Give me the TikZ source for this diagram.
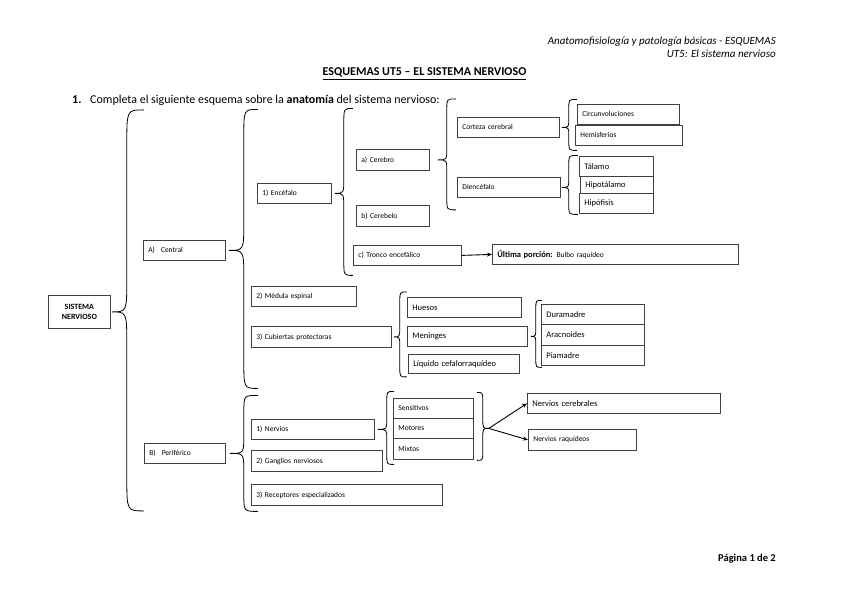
\documentclass[tikz,border=0pt]{standalone}
\usepackage{fontspec}
\setmainfont{Carlito}
\usetikzlibrary{calc,arrows.meta}
\definecolor{boxc}{RGB}{64,64,64}
\tikzset{
 box/.style 2 args={draw=boxc, line width=0.8pt, text width=#1, minimum height=#2, inner xsep=5pt, inner ysep=0pt, anchor=north west, align=left, font=\fontsize{7.5}{8}\selectfont},
 hw/.style={font=\fontsize{8.5}{9}\selectfont},
 snbox/.style={draw=boxc, line width=0.8pt, minimum width=62pt, minimum height=33pt, inner sep=0pt, anchor=north west, align=center, font=\bfseries\fontsize{8}{9.5}\selectfont},
 brace/.style={draw=black, line width=0.8pt},
 arr/.style={draw=black, line width=0.9pt, -{Stealth[length=5pt,width=4pt]}},
 txt/.style={inner sep=0pt},
}
% #1 tip, #2 spine offset, #3 up, #4 down, #5 curl, #6 radius
\newcommand\mybrace[6]{%
 \draw[brace] ($(#1)+({#2+(#5)},{-(#3)})$) .. controls ($(#1)+({#2},{-(#3)})$) .. ($(#1)+({#2},{-(#3)+(#6)})$)
  -- ($(#1)+({#2},{-(#6)})$) .. controls ($(#1)+({#2},0)$) .. (#1)
  .. controls ($(#1)+({#2},0)$) .. ($(#1)+({#2},{#6})$)
  -- ($(#1)+({#2},{(#4)-(#6)})$) .. controls ($(#1)+({#2},{#4})$) .. ($(#1)+({#2+(#5)},{#4})$);}
\begin{document}
\begin{tikzpicture}[x=1pt,y=-1pt]
\useasboundingbox (0,0) rectangle (848,599);
\fill[white] (0,0) rectangle (848,599);
% header
\node[txt, anchor=base east, font=\itshape\fontsize{11}{13}\selectfont] (h1) at (776,45) {Anatomofisiología y patología básicas - ESQUEMAS};
\node[txt, anchor=base east, font=\itshape\fontsize{11}{13}\selectfont] (h2) at (776,58) {UT5: El sistema nervioso};
\node[txt, anchor=base, font=\bfseries\fontsize{12}{14}\selectfont] (title) at (424.5,76) {\underline{ESQUEMAS UT5 – EL SISTEMA NERVIOSO}};
\node[txt, anchor=base west, font=\bfseries\fontsize{12}{14}\selectfont] (num) at (72,103) {1.};
\node[txt, anchor=base west, font=\fontsize{12}{14}\selectfont] (q) at (90,103) {Completa el siguiente esquema sobre la \textbf{anatomía} del sistema nervioso:};
\node[txt, anchor=base east, font=\bfseries\fontsize{10.5}{12}\selectfont] (pg) at (776,561) {Página 1 de 2};
% boxes
\node[snbox] (sn) at (48,295) {SISTEMA\\NERVIOSO};
\node[box={72pt}{20pt}] (cen) at (143,240) {A)\hspace{0.8em}Central};
\node[box={71pt}{20pt}] (per) at (144,443) {B)\hspace{0.8em}Periférico};
\node[box={64pt}{20pt}] (enc) at (257,183) {1) Encéfalo};
\node[box={95pt}{20pt}] (med) at (251,286) {2) Médula espinal};
\node[box={130pt}{21pt}] (cub) at (251,326) {3) Cubiertas protectoras};
\node[box={113pt}{20pt}] (ner) at (251,419) {1) Nervios};
\node[box={121pt}{21pt}] (gan) at (251,450) {2) Ganglios nerviosos};
\node[box={181pt}{21pt}] (rec) at (251,484) {3) Receptores especializados};
\node[box={63pt}{21pt}] (cer) at (356,149) {a) Cerebro};
\node[box={63pt}{21pt}] (cbl) at (356,205) {b) Cerebelo};
\node[box={98pt}{20pt}] (tro) at (353,245) {c) Tronco encefálico};
\node[box={236pt}{20pt}] (ult) at (492,244) {\textbf{\fontsize{8.5}{9}\selectfont Última porción:}\hspace{0.5em}Bulbo raquídeo};
\node[box={92pt}{20pt}] (cor) at (457,117) {Corteza cerebral};
\node[box={93pt}{20pt}] (die) at (457,177) {Diencéfalo};
\node[box={92pt}{20pt}] (cir) at (577,104) {Circunvoluciones};
\node[box={97pt}{20pt}] (hem) at (575,125) {Hemisferios};
\node[box={64pt}{20pt}, hw] (tal) at (579,156) {Tálamo};
\node[box={63pt}{17pt}, hw] (hip) at (580,176) {Hipotálamo};
\node[box={64pt}{20pt}, hw] (hpf) at (579,193) {Hipófisis};
\node[box={104pt}{20pt}, hw] (hue) at (407,297) {Huesos};
\node[box={110pt}{20pt}, hw] (men) at (407,326) {Meninges};
\node[box={101pt}{19pt}, hw] (liq) at (408,354) {Líquido cefalorraquídeo};
\node[box={93pt}{20pt}, hw] (dur) at (541,304) {Duramadre};
\node[box={93pt}{21pt}, hw] (ara) at (541,324) {Aracnoides};
\node[box={93pt}{20pt}, hw] (pia) at (541,345) {Piamadre};
\node[box={70pt}{20pt}] (sen) at (393,398) {Sensitivos};
\node[box={70pt}{20pt}] (mot) at (393,418) {Motores};
\node[box={70pt}{21pt}] (mix) at (393,438) {Mixtos};
\node[box={183pt}{20pt}, hw] (nc) at (527,393) {Nervios cerebrales};
\node[box={98pt}{21pt}] (nr) at (528,429) {Nervios raquídeos};
% brace tips
\coordinate (t1) at ([xshift=1pt]sn.east);
\coordinate (t2) at ([xshift=3pt]cen.east);
\coordinate (t3) at ([xshift=4pt]per.east);
\coordinate (t4) at ([xshift=3pt]enc.east);
\coordinate (t5) at ([xshift=8pt]cer.east);
\coordinate (t6) at ([xshift=2pt]cor.east);
\coordinate (t7) at ([xshift=1pt]die.east);
\coordinate (t8) at ([xshift=2pt]cub.east);
\coordinate (t9) at ([xshift=3pt]men.east);
\coordinate (t10) at ([xshift=3pt]ner.east);
\coordinate (t11) at ([xshift=15pt]mot.east);
% braces
\mybrace{t1}{15}{202}{199}{17}{34}
\mybrace{t2}{15}{141}{138}{14}{28}
\mybrace{t3}{14}{58}{58}{14}{18}
\mybrace{t4}{9}{85}{82}{9}{15}
\mybrace{t5}{9}{61}{50}{9}{12}
\mybrace{t6}{7}{28}{23}{8}{9}
\mybrace{t7}{7}{32}{27}{9}{9}
\mybrace{t8}{6}{45}{40}{7}{10}
\mybrace{t9}{5}{36}{31}{6}{9}
\mybrace{t10}{9}{38}{35}{7}{10}
\mybrace{t11}{-6}{36}{32}{-6}{10}
% arrows
\draw[arr] (tro.east) -- (ult.west);
\draw[arr] (t11) -- (nc.west);
\draw[arr] (t11) -- (nr.west);
\end{tikzpicture}
\end{document}
